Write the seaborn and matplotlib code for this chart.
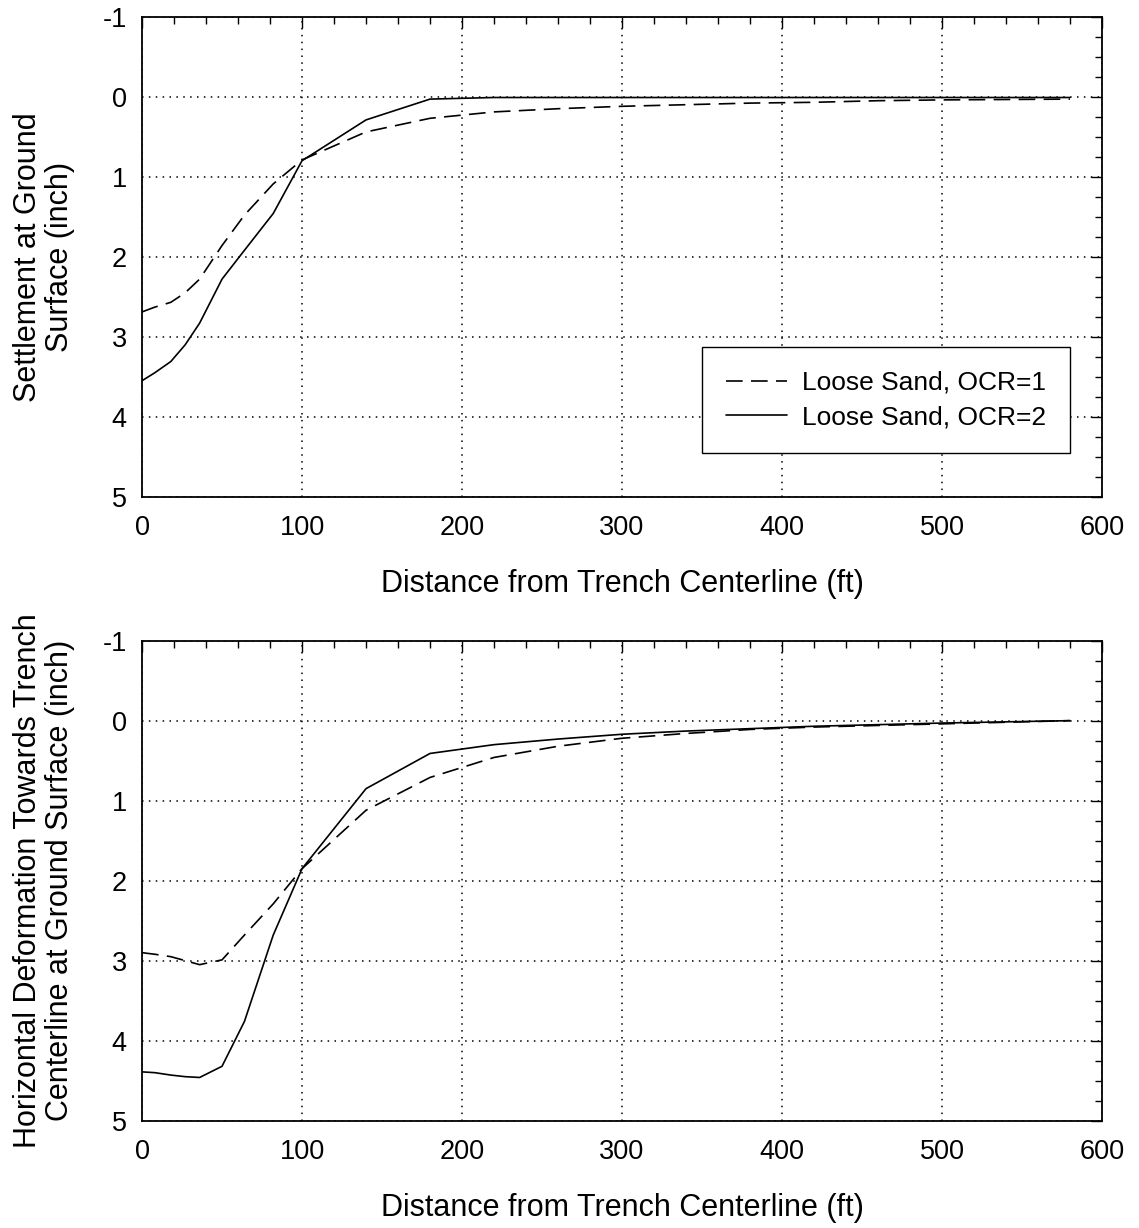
import numpy as np
import pandas as pd
import matplotlib
matplotlib.use("Agg")
import matplotlib.pyplot as plt
from matplotlib.ticker import MultipleLocator
import seaborn as sns

# ---- data ----
distance_ft = [0, 8, 18, 27, 36, 50, 64, 82, 100, 140, 180, 220, 260, 300,
               340, 380, 420, 460, 500, 540, 580]

settle_ocr1 = [2.69, 2.63, 2.57, 2.45, 2.28, 1.86, 1.48, 1.09, 0.79, 0.44, 0.27,
               0.19, 0.15, 0.12, 0.10, 0.08, 0.07, 0.05, 0.04, 0.035, 0.03]
settle_ocr2 = [3.55, 3.45, 3.31, 3.10, 2.83, 2.28, 1.92, 1.46, 0.80, 0.29, 0.03,
               0.01, 0.01, 0.01, 0.01, 0.01, 0.01, 0.01, 0.01, 0.01, 0.01]

horiz_ocr1 = [2.90, 2.92, 2.95, 3.00, 3.05, 2.99, 2.68, 2.29, 1.85, 1.12, 0.71,
              0.46, 0.32, 0.22, 0.16, 0.11, 0.08, 0.06, 0.04, 0.02, 0.0]
horiz_ocr2 = [4.39, 4.40, 4.43, 4.45, 4.46, 4.32, 3.76, 2.68, 1.85, 0.85, 0.41,
              0.30, 0.23, 0.17, 0.13, 0.10, 0.07, 0.05, 0.03, 0.015, 0.0]

series_names = ["Loose Sand, OCR=1", "Loose Sand, OCR=2"]
x_ticks = [0, 100, 200, 300, 400, 500, 600]
y_ticks = [-1, 0, 1, 2, 3, 4, 5]

xlabel = "Distance from Trench Centerline (ft)"
ylabel_top = "Settlement at Ground\nSurface (inch)"
ylabel_bot = "Horizontal Deformation Towards Trench\nCenterline at Ground Surface (inch)"


def long_df(a, b):
    return pd.DataFrame({
        "x": distance_ft * 2,
        "y": list(a) + list(b),
        "case": [series_names[0]] * len(a) + [series_names[1]] * len(b),
    })


sns.set_style("white")
plt.rcParams["font.family"] = ["Liberation Sans", "DejaVu Sans"]
plt.rcParams["text.color"] = "black"
plt.rcParams["axes.labelcolor"] = "black"
plt.rcParams["xtick.color"] = "black"
plt.rcParams["ytick.color"] = "black"

fig = plt.figure(figsize=(11.39, 12.28), dpi=100)
ax1 = fig.add_axes([0.1247, 0.5955, 0.8428, 0.3909])
ax2 = fig.add_axes([0.1247, 0.0874, 0.8428, 0.3909])

dashes = {series_names[0]: (10, 5), series_names[1]: ""}

for ax, (a, b), ylab, show_leg in [
    (ax1, (settle_ocr1, settle_ocr2), ylabel_top, True),
    (ax2, (horiz_ocr1, horiz_ocr2), ylabel_bot, False),
]:
    df = long_df(a, b)
    sns.lineplot(data=df, x="x", y="y", style="case", dashes=dashes,
                 color="black", linewidth=1.2, ax=ax, legend=show_leg,
                 sort=False)
    ax.set_xlim(0, 600)
    ax.set_ylim(5, -1)
    ax.set_xticks(x_ticks)
    ax.set_yticks(y_ticks)
    ax.set_xticklabels([str(t) for t in x_ticks])
    ax.set_yticklabels([str(t) for t in y_ticks])
    ax.xaxis.set_minor_locator(MultipleLocator(20))
    ax.yaxis.set_minor_locator(MultipleLocator(0.25))
    ax.tick_params(which="both", direction="in", top=True, right=True,
                   colors="black", labelcolor="black", labelsize=19.5, width=1.0)
    ax.tick_params(axis="x", which="major", length=8, pad=13)
    ax.tick_params(axis="y", which="major", length=8, pad=11)
    ax.tick_params(which="minor", length=5)
    ax.grid(True, which="major", linestyle=(0, (1, 3.5)), color="black",
            linewidth=1.1)
    for s in ax.spines.values():
        s.set_color("black")
        s.set_linewidth(1.3)
    ax.set_xlabel(xlabel, fontsize=22, labelpad=20, color="black")
    ax.set_ylabel(ylab, fontsize=22, labelpad=20, linespacing=1.05,
                  color="black")
    if show_leg:
        h, l = ax.get_legend_handles_labels()
        leg = ax.legend(h, l, loc="lower right", bbox_to_anchor=(0.967, 0.091),
                        borderaxespad=0, fontsize=19, frameon=True,
                        fancybox=False, edgecolor="black", framealpha=1,
                        handlelength=2.3, handletextpad=0.6,
                        borderpad=0.9, labelspacing=0.4, title=None)
        leg.get_frame().set_linewidth(1.0)
        for t in leg.get_texts():
            t.set_color("black")

fig.savefig("out.png", dpi=100, facecolor="white")
